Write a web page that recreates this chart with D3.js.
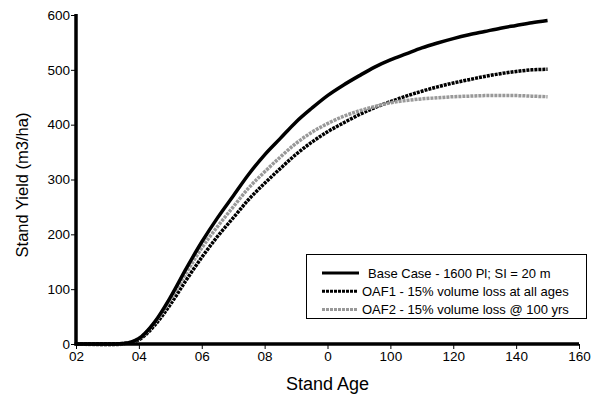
<!DOCTYPE html>
<html><head><meta charset="utf-8">
<script src="https://cdn.jsdelivr.net/npm/d3@7"></script>
<style>body{margin:0;background:#fff;}text{font-family:"Liberation Sans",Arial,Helvetica,sans-serif;}</style>
</head><body>
<svg id="c" width="591" height="399"></svg>
<script>
const ages = [0,5,10,15,20,25,30,35,40,45,50,55,60,65,70,75,80,85,90,95,100,105,110,115,120,125,130,135,140,145,150];
const baseCase = [0,0,0,1,10,40,85,137,186,230,270,310,345,375,405,430,453,472,489,505,518,529,540,549,557,564,570,576,581,586,590];
const oaf1 = [0,0,0,1,8,34,72,116,158,196,230,264,293,320,346,368,387,403,418,431,442,452,461,469,476,482,488,493,497,500,501];
const oaf2 = [0,-1,-2,0,10,39,81,129,175,214,250,285,314,341,366,386,402,415,425,433,440,444,447,449,451,452,453,453,453,452,451];
const xTickValues = [0,20,40,60,80,100,120,140,160];
const xTickLabels = ["02","04","06","08","0","100","120","140","160"];
const yTickValues = [0,100,200,300,400,500,600];
const seriesNames = ["Base Case - 1600 Pl; SI = 20 m","OAF1 - 15% volume loss at all ages","OAF2 - 15% volume loss @ 100 yrs"];

const svg = d3.select("#c");
const x = d3.scaleLinear().domain([0,160]).range([76,579]);
const y = d3.scaleLinear().domain([0,600]).range([344,15]);

const styles = [
  {color:"#000", dash:null},
  {color:"#000", dash:"3,1"},
  {color:"#999", dash:"3,1"}
];
const seriesData = [baseCase, oaf1, oaf2];

const line = d3.line().x(d=>x(d[0])).y(d=>y(d[1])).curve(d3.curveMonotoneX);
[1,2,0].forEach(i=>{
  const p = svg.append("path")
    .datum(ages.map((a,j)=>[a, seriesData[i][j]]))
    .attr("d", line).attr("fill","none")
    .attr("stroke", styles[i].color).attr("stroke-width",3.5);
  if (styles[i].dash) p.attr("stroke-dasharray", styles[i].dash);
});

const xAxis = d3.axisBottom(x).tickValues(xTickValues).tickFormat((d,i)=>xTickLabels[i]).tickSize(5).tickSizeOuter(0);
const yAxis = d3.axisLeft(y).tickValues(yTickValues).tickSize(5).tickSizeOuter(0);
const gx = svg.append("g").attr("transform","translate(0,344)").call(xAxis);
const gy = svg.append("g").attr("transform","translate(76,0)").call(yAxis);
[gx,gy].forEach(g=>{
  g.select(".domain").remove();
  g.selectAll(".tick line").attr("stroke","#000").attr("stroke-width",1);
  g.selectAll(".tick text").attr("fill","#000").style("font-size","13.5px");
});
gx.selectAll(".tick text").attr("dy","0.9em").attr("y",5);
gy.selectAll(".tick text").attr("x",-6);
svg.append("line").attr("x1",76).attr("x2",76).attr("y1",y(600)-1).attr("y2",y(0)+1.5).attr("stroke","#000").attr("stroke-width",3.5);
svg.append("line").attr("x1",74.5).attr("x2",x(160)).attr("y1",y(0)).attr("y2",y(0)).attr("stroke","#000").attr("stroke-width",3.5);

svg.append("text").attr("x",(76+579)/2).attr("y",390).attr("text-anchor","middle").style("font-size","18px").text("Stand Age");
svg.append("text").attr("transform","translate(28,185) rotate(-90)").attr("text-anchor","middle").style("font-size","16.5px").text("Stand Yield (m3/ha)");

const lg = svg.append("g");
lg.append("rect").attr("x",306.5).attr("y",254.5).attr("width",280).attr("height",64).attr("fill","#fff").attr("stroke","#000").attr("stroke-width",1);
const legX1 = [322,322,322], legX2 = [359,357,357], legTx = [368,362,362];
seriesNames.forEach((n,i)=>{
  const yy = 273 + i*18.3;
  const l = lg.append("line").attr("x1",legX1[i]).attr("x2",legX2[i]).attr("y1",yy).attr("y2",yy).attr("stroke",styles[i].color).attr("stroke-width",3);
  if (styles[i].dash) l.attr("stroke-dasharray",styles[i].dash);
  lg.append("text").attr("x",legTx[i]).attr("y",yy+4.5).style("font-size","13px").text(n);
});
</script>
</body></html>
